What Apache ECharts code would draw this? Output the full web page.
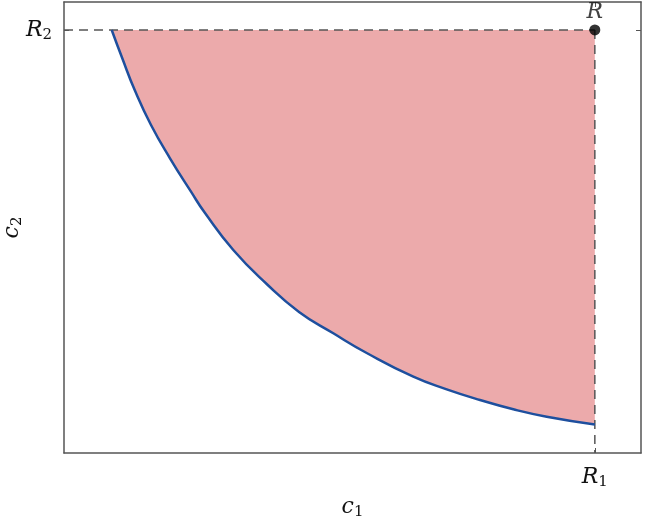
<!DOCTYPE html>
<html>
<head>
<meta charset="utf-8">
<script src="https://cdn.jsdelivr.net/npm/echarts@6/dist/echarts.min.js"></script>
<style>
  html, body { margin: 0; padding: 0; background: #fff; }
  #chart { width: 645px; height: 519px; }
</style>
</head>
<body>
<div id="chart"></div>
<script>
  // corner point R = (R1, R2)
  var R1 = 9.2;
  var R2 = 9.38;
  // boundary curve
  var curveX = [0.827, 1.01, 1.231, 1.508, 1.837, 2.201, 2.444, 2.934, 3.513, 4.073, 4.667, 5.246, 6.054, 6.633, 7.21, 7.787, 8.366, 9.2];
  var curveY = [9.38, 8.752, 8.03, 7.273, 6.534, 5.794, 5.32, 4.501, 3.747, 3.129, 2.654, 2.217, 1.692, 1.412, 1.175, 0.969, 0.805, 0.632];
  var xTickLabels = ['{i|R}{s|1}'];
  var yTickLabels = ['{i|R}{s|2}'];

  var curve = curveX.map(function (x, i) { return [x, curveY[i]]; });
  var region = curve.concat([[R1, R2]]);

  var serif = '"DejaVu Serif", "Liberation Serif", serif';
  var rich = {
    i: { fontFamily: serif, fontStyle: 'italic', fontSize: 22, color: '#111' },
    s: { fontFamily: serif, fontSize: 15, color: '#111', padding: [10, 0, 0, 0] }
  };

  function frameAxis(pos, ticks) {
    return {
      type: 'value', min: 0, max: 10, position: pos,
      axisLine: { show: true, onZero: false, lineStyle: { color: '#555', width: 1.5 } },
      axisTick: { show: true, inside: true, length: 5, customValues: ticks, lineStyle: { color: '#555' } },
      axisLabel: { show: false },
      splitLine: { show: false }
    };
  }

  var myChart = echarts.init(document.getElementById('chart'));
  var option = {
    animation: false,
    grid: { left: 64, right: 4, top: 2, bottom: 66, outerBoundsMode: 'none', containLabel: false },
    xAxis: [
      {
        type: 'value', min: 0, max: 10,
        name: '{i|c}{s|1}', nameLocation: 'middle', nameGap: 42, nameMoveOverlap: false,
        nameTextStyle: { rich: rich },
        axisLine: { show: true, onZero: false, lineStyle: { color: '#555', width: 1.5 } },
        axisTick: { show: true, inside: true, length: 5, customValues: [R1], lineStyle: { color: '#555' } },
        axisLabel: { customValues: [R1], formatter: function () { return xTickLabels[0]; }, rich: rich, margin: 12 },
        splitLine: { show: false }
      },
      frameAxis('top', [R1])
    ],
    yAxis: [
      {
        type: 'value', min: 0, max: 10,
        name: '{i|c}{s|2}', nameLocation: 'middle', nameGap: 39, nameRotate: 90, nameMoveOverlap: false,
        nameTextStyle: { rich: rich },
        axisLine: { show: true, onZero: false, lineStyle: { color: '#555', width: 1.5 } },
        axisTick: { show: true, inside: true, length: 5, customValues: [R2], lineStyle: { color: '#555' } },
        axisLabel: { customValues: [R2], formatter: function () { return yTickLabels[0]; }, rich: rich, margin: 12 },
        splitLine: { show: false }
      },
      frameAxis('right', [R2])
    ],
    series: [
      {
        type: 'custom',
        silent: true,
        z: 1,
        data: [0],
        renderItem: function (params, api) {
          var pts = region.map(function (p) { return api.coord(p); });
          return { type: 'polygon', shape: { points: pts }, style: { fill: '#ECAAAB' } };
        }
      },
      {
        type: 'line',
        data: [[0, R2], [R1, R2]],
        symbol: 'none',
        z: 2,
        lineStyle: { color: '#555', width: 1.5, type: [9, 6] }
      },
      {
        type: 'line',
        data: [[R1, R2], [R1, 0]],
        symbol: 'none',
        z: 2,
        lineStyle: { color: '#555', width: 1.5, type: [9, 6] }
      },
      {
        type: 'line',
        data: curve,
        smooth: 0.5,
        symbol: 'none',
        z: 3,
        lineStyle: { color: '#1E4F9E', width: 2.5 }
      },
      {
        type: 'scatter',
        data: [[R1, R2]],
        symbolSize: 11,
        z: 4,
        itemStyle: { color: '#000' },
        label: {
          show: true, position: 'top', distance: 1,
          formatter: 'R',
          fontFamily: serif, fontStyle: 'italic', fontSize: 22, color: '#111'
        }
      }
    ]
  };
  myChart.setOption(option);
</script>
</body>
</html>
